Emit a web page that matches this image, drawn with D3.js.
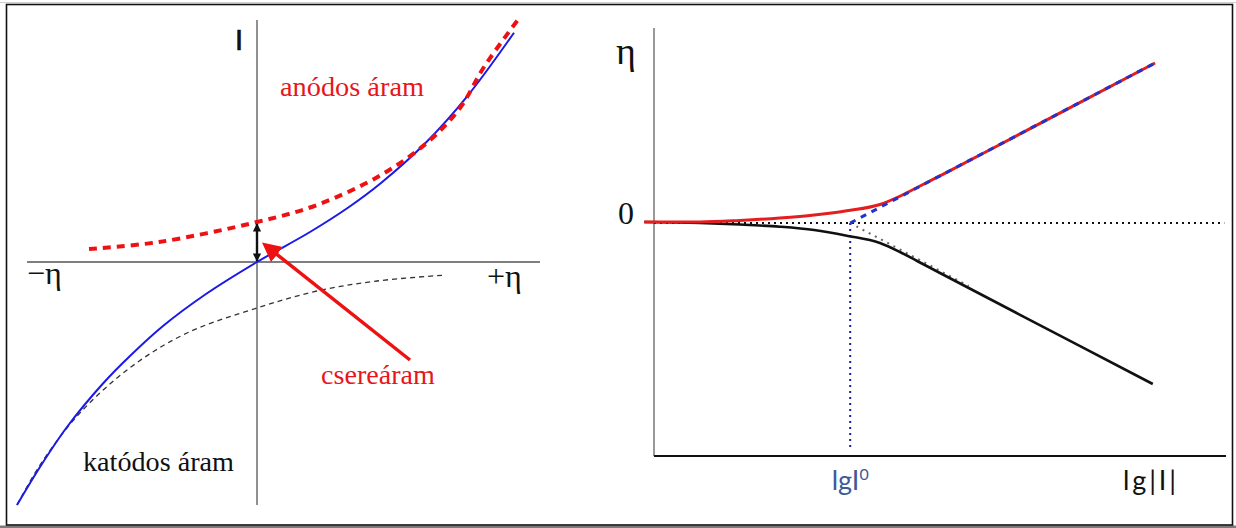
<!DOCTYPE html>
<html>
<head>
<meta charset="utf-8">
<script src="https://cdn.jsdelivr.net/npm/d3@7"></script>
<style>
  html, body { margin: 0; padding: 0; background: #fff; }
  svg { display: block; }
</style>
</head>
<body>
<svg id="chart" width="1236" height="528"></svg>
<script>
// ---------- Left panel data (η, I) in arbitrary units ----------
const netEta        = [-2.40, -2.17, -1.90, -1.54, -1.26, -0.94, -0.51, 0, 0.53, 0.92, 1.24, 1.68, 2.11, 2.57];
const netCurrent    = [-2.43, -2.05, -1.65, -1.215, -0.93, -0.64, -0.32, 0, 0.30, 0.55, 0.79, 1.185, 1.667, 2.293];
const anodicEta     = [-1.68, -0.98, 0, 0.60, 1.24, 1.72, 2.03, 2.27, 2.63];
const anodicCurrent = [0.13, 0.20, 0.40, 0.57, 0.87, 1.21, 1.54, 1.95, 2.45];
const cathodicEta     = [-2.40, -2.17, -1.78, -1.26, -0.70, 0, 0.60, 1.20, 1.89];
const cathodicCurrent = [-2.43, -2.03, -1.52, -1.05, -0.71, -0.46, -0.29, -0.19, -0.13];
const exchangeCurrent = 0.40;
const leftLabels = { yAxis: "I", xNeg: "−η", xPos: "+η", anodic: "anódos áram", cathodic: "katódos áram", exchange: "csereáram" };

// ---------- Right panel data (lg|I|, η) ----------
const anodicLgI  = [-0.17, 0.8, 1.5, 2.2, 2.8, 3.37, 3.95, 4.25, 4.6, 5.0, 6.5, 7.5, 8.76];
const anodicEtaR = [0.1, 0.1, 0.25, 0.5, 0.8, 1.23, 1.85, 2.55, 3.55, 4.72, 9.21, 12.21, 16.0];
const cathodicLgI  = [-0.17, 0.8, 1.5, 2.2, 2.8, 3.37, 3.95, 4.30, 4.6, 5.0, 6.5, 7.5, 8.72];
const cathodicEtaR = [0.1, 0, -0.15, -0.37, -0.7, -1.27, -2.0, -2.9, -3.8, -5.0, -9.48, -12.46, -16.1];
const tafelAnodicLgI = [3.43, 8.76];
const tafelAnodicEta = [0, 16.0];
const tafelCathodicLgI = [3.43, 5.5];
const tafelCathodicEta = [0, -6.3];
const lgI0 = 3.43;
const rightLabels = { yAxis: "η", zero: "0", lgI0: "lgI", lgI0sup: "0", xAxis: "lg|I|" };

// ---------- Setup ----------
const svg = d3.select("#chart");
svg.append("rect").attr("x", 0).attr("y", 0).attr("width", 1236).attr("height", 528).attr("fill", "#fff");
// frame
svg.append("line").attr("x1", 0).attr("x2", 1236).attr("y1", 2.5).attr("y2", 2.5).attr("stroke", "#d0d0d0").attr("stroke-width", 1);
svg.append("rect").attr("x", 0).attr("y", 525.5).attr("width", 1236).attr("height", 3).attr("fill", "#7a7a7a");
svg.append("rect").attr("x", 6.5).attr("y", 4.5).attr("width", 1226).attr("height", 520.5)
  .attr("fill", "none").attr("stroke", "#111").attr("stroke-width", 1.6);

// ---------- Left panel ----------
const xL = d3.scaleLinear().domain([-2.3, 2.83]).range([27, 540]);
const yL = d3.scaleLinear().domain([-2.43, 2.42]).range([505, 20]);
const gL = svg.append("g");

// axes
gL.append("line").attr("x1", xL(-2.3)).attr("x2", xL(2.83)).attr("y1", yL(0)).attr("y2", yL(0))
  .attr("stroke", "#555").attr("stroke-width", 1.3);
gL.append("line").attr("x1", xL(0)).attr("x2", xL(0)).attr("y1", yL(2.42)).attr("y2", yL(-2.43))
  .attr("stroke", "#555").attr("stroke-width", 1.3);

const lineL = d3.line().x(d => xL(d[0])).y(d => yL(d[1])).curve(d3.curveCatmullRom.alpha(0.5));

gL.append("path").datum(d3.zip(cathodicEta, cathodicCurrent)).attr("d", lineL)
  .attr("fill", "none").attr("stroke", "#333").attr("stroke-width", 1.3).attr("stroke-dasharray", "5,4");
gL.append("path").datum(d3.zip(netEta, netCurrent)).attr("d", lineL)
  .attr("fill", "none").attr("stroke", "#1a1ae6").attr("stroke-width", 2);
gL.append("path").datum(d3.zip(anodicEta, anodicCurrent)).attr("d", lineL)
  .attr("fill", "none").attr("stroke", "#ee1111").attr("stroke-width", 4).attr("stroke-dasharray", "8,6");

// markers
const defs = svg.append("defs");
defs.append("marker").attr("id", "blackHead").attr("viewBox", "0 0 10 10").attr("refX", 9).attr("refY", 5)
  .attr("markerWidth", 3.5).attr("markerHeight", 3.5).attr("orient", "auto-start-reverse")
  .append("path").attr("d", "M0,0 L10,5 L0,10 z").attr("fill", "#111");
defs.append("marker").attr("id", "redHead").attr("viewBox", "0 0 10 10").attr("refX", 8).attr("refY", 5)
  .attr("markerWidth", 5.5).attr("markerHeight", 5.5).attr("markerUnits", "strokeWidth").attr("orient", "auto")
  .append("path").attr("d", "M0,0 L10,5 L0,10 z").attr("fill", "#ee1111");

// exchange current double arrow
gL.append("line").attr("x1", xL(0)).attr("x2", xL(0)).attr("y1", yL(0) - 1).attr("y2", yL(exchangeCurrent) + 2)
  .attr("stroke", "#111").attr("stroke-width", 2.4)
  .attr("marker-start", "url(#blackHead)").attr("marker-end", "url(#blackHead)");
// red pointer arrow
gL.append("line").attr("x1", xL(1.53)).attr("y1", yL(-0.98)).attr("x2", xL(0.08)).attr("y2", yL(0.17))
  .attr("stroke", "#ee1111").attr("stroke-width", 3.5).attr("marker-end", "url(#redHead)");

// left labels
const serif = "'Liberation Serif', 'Times New Roman', serif";
gL.append("text").attr("x", 239).attr("y", 50).attr("text-anchor", "middle")
  .attr("font-family", "'Liberation Sans', Arial, sans-serif").attr("font-size", 29)
  .attr("fill", "#111").attr("stroke", "#111").attr("stroke-width", 0.7).text(leftLabels.yAxis);
gL.append("text").attr("x", 27).attr("y", 284).attr("font-family", serif).attr("font-size", 32).attr("fill", "#111").text(leftLabels.xNeg);
gL.append("text").attr("x", 487).attr("y", 287).attr("font-family", serif).attr("font-size", 32).attr("fill", "#111").text(leftLabels.xPos);
gL.append("text").attr("x", 280).attr("y", 96).attr("font-family", serif).attr("font-size", 27).attr("fill", "#e8161b")
  .attr("textLength", 144).attr("lengthAdjust", "spacingAndGlyphs").text(leftLabels.anodic);
gL.append("text").attr("x", 83).attr("y", 471).attr("font-family", serif).attr("font-size", 27).attr("fill", "#111")
  .attr("textLength", 151).attr("lengthAdjust", "spacingAndGlyphs").text(leftLabels.cathodic);
gL.append("text").attr("x", 321).attr("y", 384).attr("font-family", serif).attr("font-size", 27).attr("fill", "#e8161b")
  .attr("textLength", 114).attr("lengthAdjust", "spacingAndGlyphs").text(leftLabels.exchange);

// ---------- Right panel ----------
const xR = d3.scaleLinear().domain([0, 10]).range([654, 1226]);
const yR = d3.scaleLinear().domain([-23.3, 19.5]).range([456, 28]);
const gR = svg.append("g");
const lineR = d3.line().x(d => xR(d[0])).y(d => yR(d[1])).curve(d3.curveMonotoneX);
const lineRs = d3.line().x(d => xR(d[0])).y(d => yR(d[1]));

// axes
gR.append("line").attr("x1", xR(0)).attr("x2", xR(0)).attr("y1", yR(19.5)).attr("y2", yR(-23.3))
  .attr("stroke", "#555").attr("stroke-width", 1.2);
gR.append("line").attr("x1", xR(0)).attr("x2", xR(10)).attr("y1", yR(-23.3)).attr("y2", yR(-23.3))
  .attr("stroke", "#111").attr("stroke-width", 2);

// dotted zero line
gR.append("line").attr("x1", xR(0)).attr("x2", xR(9.97)).attr("y1", yR(0)).attr("y2", yR(0))
  .attr("stroke", "#111").attr("stroke-width", 2).attr("stroke-dasharray", "2,4");
// vertical blue dotted at lgI0
gR.append("line").attr("x1", xR(lgI0)).attr("x2", xR(lgI0)).attr("y1", yR(0)).attr("y2", yR(-22.8))
  .attr("stroke", "#1a1aa8").attr("stroke-width", 2).attr("stroke-dasharray", "2,4");
// cathodic Tafel extrapolation (gray dotted)
gR.append("path").datum(d3.zip(tafelCathodicLgI, tafelCathodicEta)).attr("d", lineRs)
  .attr("fill", "none").attr("stroke", "#666").attr("stroke-width", 2).attr("stroke-dasharray", "2,5");
// cathodic curve
gR.append("path").datum(d3.zip(cathodicLgI, cathodicEtaR)).attr("d", lineR)
  .attr("fill", "none").attr("stroke", "#111").attr("stroke-width", 2.6);
// anodic curve
gR.append("path").datum(d3.zip(anodicLgI, anodicEtaR)).attr("d", lineR)
  .attr("fill", "none").attr("stroke", "#e41e1e").attr("stroke-width", 3);
// anodic Tafel line (blue dashed)
gR.append("path").datum(d3.zip(tafelAnodicLgI, tafelAnodicEta)).attr("d", lineRs)
  .attr("fill", "none").attr("stroke", "#2233cc").attr("stroke-width", 3).attr("stroke-dasharray", "6,6");

// right labels
gR.append("text").attr("x", 616).attr("y", 64).attr("font-family", serif).attr("font-size", 38).attr("fill", "#111").text(rightLabels.yAxis);
gR.append("text").attr("x", 618).attr("y", 224).attr("font-family", serif).attr("font-size", 32).attr("fill", "#111").text(rightLabels.zero);
const sans = "Lato, 'Open Sans', sans-serif";
const t0 = gR.append("text").attr("x", xR(lgI0)).attr("y", 490).attr("text-anchor", "middle")
  .attr("font-family", sans).attr("font-size", 27).attr("fill", "#3d5a98");
t0.append("tspan").text(rightLabels.lgI0);
t0.append("tspan").attr("font-size", 16).attr("dy", -10).text(rightLabels.lgI0sup);
gR.append("text").attr("x", 1123).attr("y", 490)
  .attr("font-family", sans).attr("font-size", 27).attr("fill", "#111")
  .attr("textLength", 53).attr("lengthAdjust", "spacing").text(rightLabels.xAxis);
</script>
</body>
</html>
